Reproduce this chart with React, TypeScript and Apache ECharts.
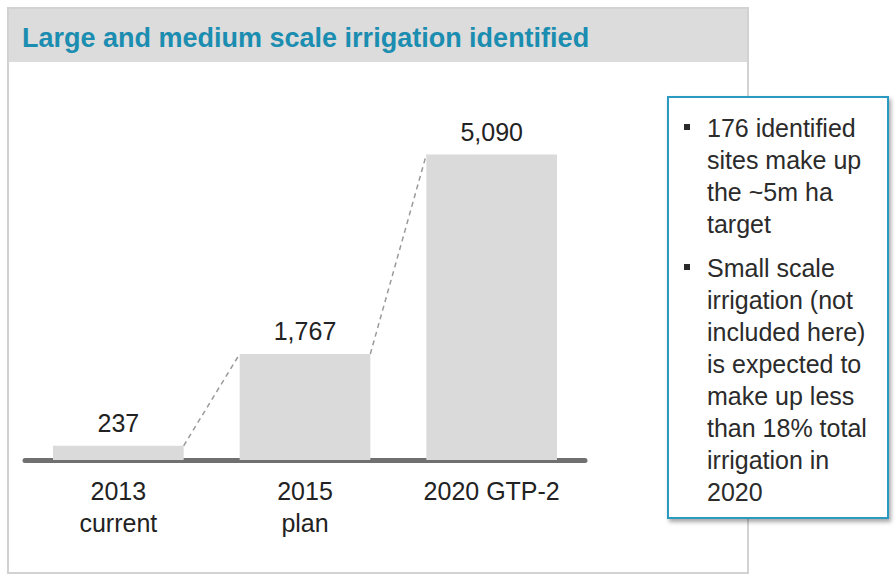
import React, { useEffect, useRef } from "react";
import * as echarts from "echarts";

const categories = ["2013\ncurrent", "2015\nplan", "2020 GTP-2"];
const values = [237, 1767, 5090];
const titleText = "Large and medium scale irrigation identified";
const noteBullets = [
  ["176 identified", "sites make up", "the ~5m ha", "target"],
  [
    "Small scale",
    "irrigation (not",
    "included here)",
    "is expected to",
    "make up less",
    "than 18% total",
    "irrigation in",
    "2020",
  ],
];

const FONT = "'Liberation Sans', Arial, sans-serif";

export default function App() {
  const ref = useRef<HTMLDivElement>(null);

  useEffect(() => {
    if (!ref.current) return;
    const chart = echarts.init(ref.current, undefined, { renderer: "svg" });

    const connectors = values.slice(0, -1).map((v, i) => [i, v, values[i + 1]]);

    const graphics: any[] = [
      {
        type: "rect",
        z: -10,
        shape: { x: 8, y: 8, width: 740, height: 565 },
        style: { fill: "#ffffff", stroke: "#d2d2d2", lineWidth: 2 },
      },
      {
        type: "rect",
        z: -9,
        shape: { x: 9, y: 9, width: 738, height: 53 },
        style: { fill: "#dcdcdc" },
      },
      {
        type: "text",
        z: -8,
        x: 22,
        y: 38,
        style: {
          text: titleText,
          font: `bold 27px ${FONT}`,
          fill: "#1a8db0",
          textVerticalAlign: "middle",
        },
      },
      {
        type: "rect",
        z: 100,
        shape: { x: 668, y: 97, width: 220, height: 421 },
        style: {
          fill: "#ffffff",
          stroke: "#2c9ac0",
          lineWidth: 2,
          shadowBlur: 4,
          shadowOffsetX: 2,
          shadowOffsetY: 3,
          shadowColor: "rgba(0,0,0,0.35)",
        },
      },
    ];

    let y = 128;
    noteBullets.forEach((lines, gi) => {
      if (gi > 0) y += 12;
      graphics.push({
        type: "rect",
        z: 101,
        shape: { x: 684, y: y - 4, width: 6, height: 6 },
        style: { fill: "#2a2a2a" },
      });
      lines.forEach((line) => {
        graphics.push({
          type: "text",
          z: 101,
          x: 707,
          y,
          style: {
            text: line,
            font: `25px ${FONT}`,
            fill: "#2b2b2b",
            textVerticalAlign: "middle",
          },
        });
        y += 32;
      });
    });

    chart.setOption({
      animation: false,
      graphic: { elements: graphics },
      grid: { left: 25, width: 560, top: 100, bottom: 116 },
      xAxis: {
        type: "category",
        data: categories,
        axisTick: { show: false },
        axisLine: { lineStyle: { color: "#707070", width: 5 } },
        axisLabel: {
          fontSize: 25,
          lineHeight: 32,
          color: "#222",
          margin: 15,
          fontFamily: FONT,
          interval: 0,
        },
      },
      yAxis: {
        type: "value",
        min: 0,
        max: 6000,
        show: false,
        splitLine: { show: false },
      },
      series: [
        {
          type: "bar",
          data: values,
          barWidth: "70%",
          itemStyle: { color: "#dadada" },
          label: {
            show: true,
            position: "top",
            distance: 10,
            fontSize: 25,
            color: "#222",
            fontFamily: FONT,
            formatter: (p: any) => Number(p.value).toLocaleString("en-US"),
          },
          z: 2,
        },
        {
          type: "custom",
          data: connectors,
          z: 3,
          renderItem: (params: any, api: any) => {
            const i = api.value(0);
            const a = api.coord([i, api.value(1)]);
            const b = api.coord([i + 1, api.value(2)]);
            const hw = api.size([1, 0])[0] * 0.35;
            return {
              type: "line",
              shape: { x1: a[0] + hw, y1: a[1], x2: b[0] - hw, y2: b[1] },
              style: { stroke: "#9a9a9a", lineWidth: 1.5, lineDash: [5, 4] },
            };
          },
        },
      ],
    });

    return () => chart.dispose();
  }, []);

  return (
    <div
      ref={ref}
      style={{ position: "absolute", left: 0, top: 0, width: 896, height: 576 }}
    />
  );
}
